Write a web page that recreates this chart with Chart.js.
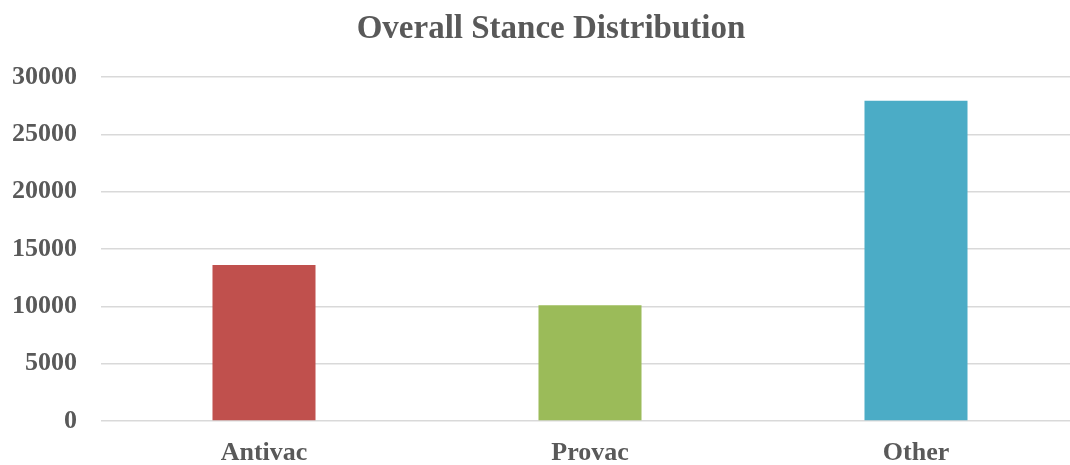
<!DOCTYPE html>
<html>
<head>
<meta charset="utf-8">
<script src="https://cdn.jsdelivr.net/npm/chart.js@4.4.1/dist/chart.umd.min.js"></script>
<style>
  html, body { margin: 0; padding: 0; background: #ffffff; overflow: hidden; }
  #wrap { width: 1079px; height: 465px; }
</style>
</head>
<body>
<div id="wrap"><canvas id="chart" width="1079" height="465"></canvas></div>
<script>
// Stance counts per category
const categories = ['Antivac', 'Provac', 'Other'];
const counts = [13600, 10100, 27930];
const barColors = ['#C0504D', '#9BBB59', '#4BACC6'];
const yTicks = [0, 5000, 10000, 15000, 20000, 25000, 30000];

const textGray = '#595959';
const serif = '"Liberation Serif", "DejaVu Serif", serif';

// Nudge the title block a little to the right of the canvas centre
const titleShift = {
  id: 'titleShift',
  afterLayout(chart) {
    if (chart.titleBlock) chart.titleBlock.left += 23;
  }
};

new Chart(document.getElementById('chart'), {
  type: 'bar',
  data: {
    labels: categories,
    datasets: [{
      data: counts,
      backgroundColor: barColors,
      borderWidth: 0,
      barPercentage: 0.316,
      categoryPercentage: 1.0
    }]
  },
  plugins: [titleShift],
  options: {
    responsive: false,
    animation: false,
    layout: { padding: 0 },
    plugins: {
      legend: { display: false },
      tooltip: { enabled: false },
      title: {
        display: true,
        text: 'Overall Stance Distribution',
        color: textGray,
        font: { family: serif, size: 33, weight: 'bold' },
        padding: { top: 10, bottom: 27.4 }
      }
    },
    scales: {
      x: {
        offset: true,
        grid: { display: false, drawTicks: false },
        border: { display: false },
        ticks: {
          color: textGray,
          font: { family: serif, size: 26, weight: 'bold' },
          padding: 17
        },
        afterFit: (scale) => { scale.height = 44; }
      },
      y: {
        min: 0,
        max: 30000,
        afterBuildTicks: (scale) => { scale.ticks = yTicks.map(v => ({ value: v })); },
        grid: { color: '#D9D9D9', lineWidth: 1.5, drawTicks: false },
        border: { display: false },
        ticks: {
          color: textGray,
          font: { family: serif, size: 26, weight: 'bold' },
          padding: 24,
          callback: (value) => String(value)
        },
        afterFit: (scale) => { scale.width = 101; }
      }
    }
  }
});
</script>
</body>
</html>
